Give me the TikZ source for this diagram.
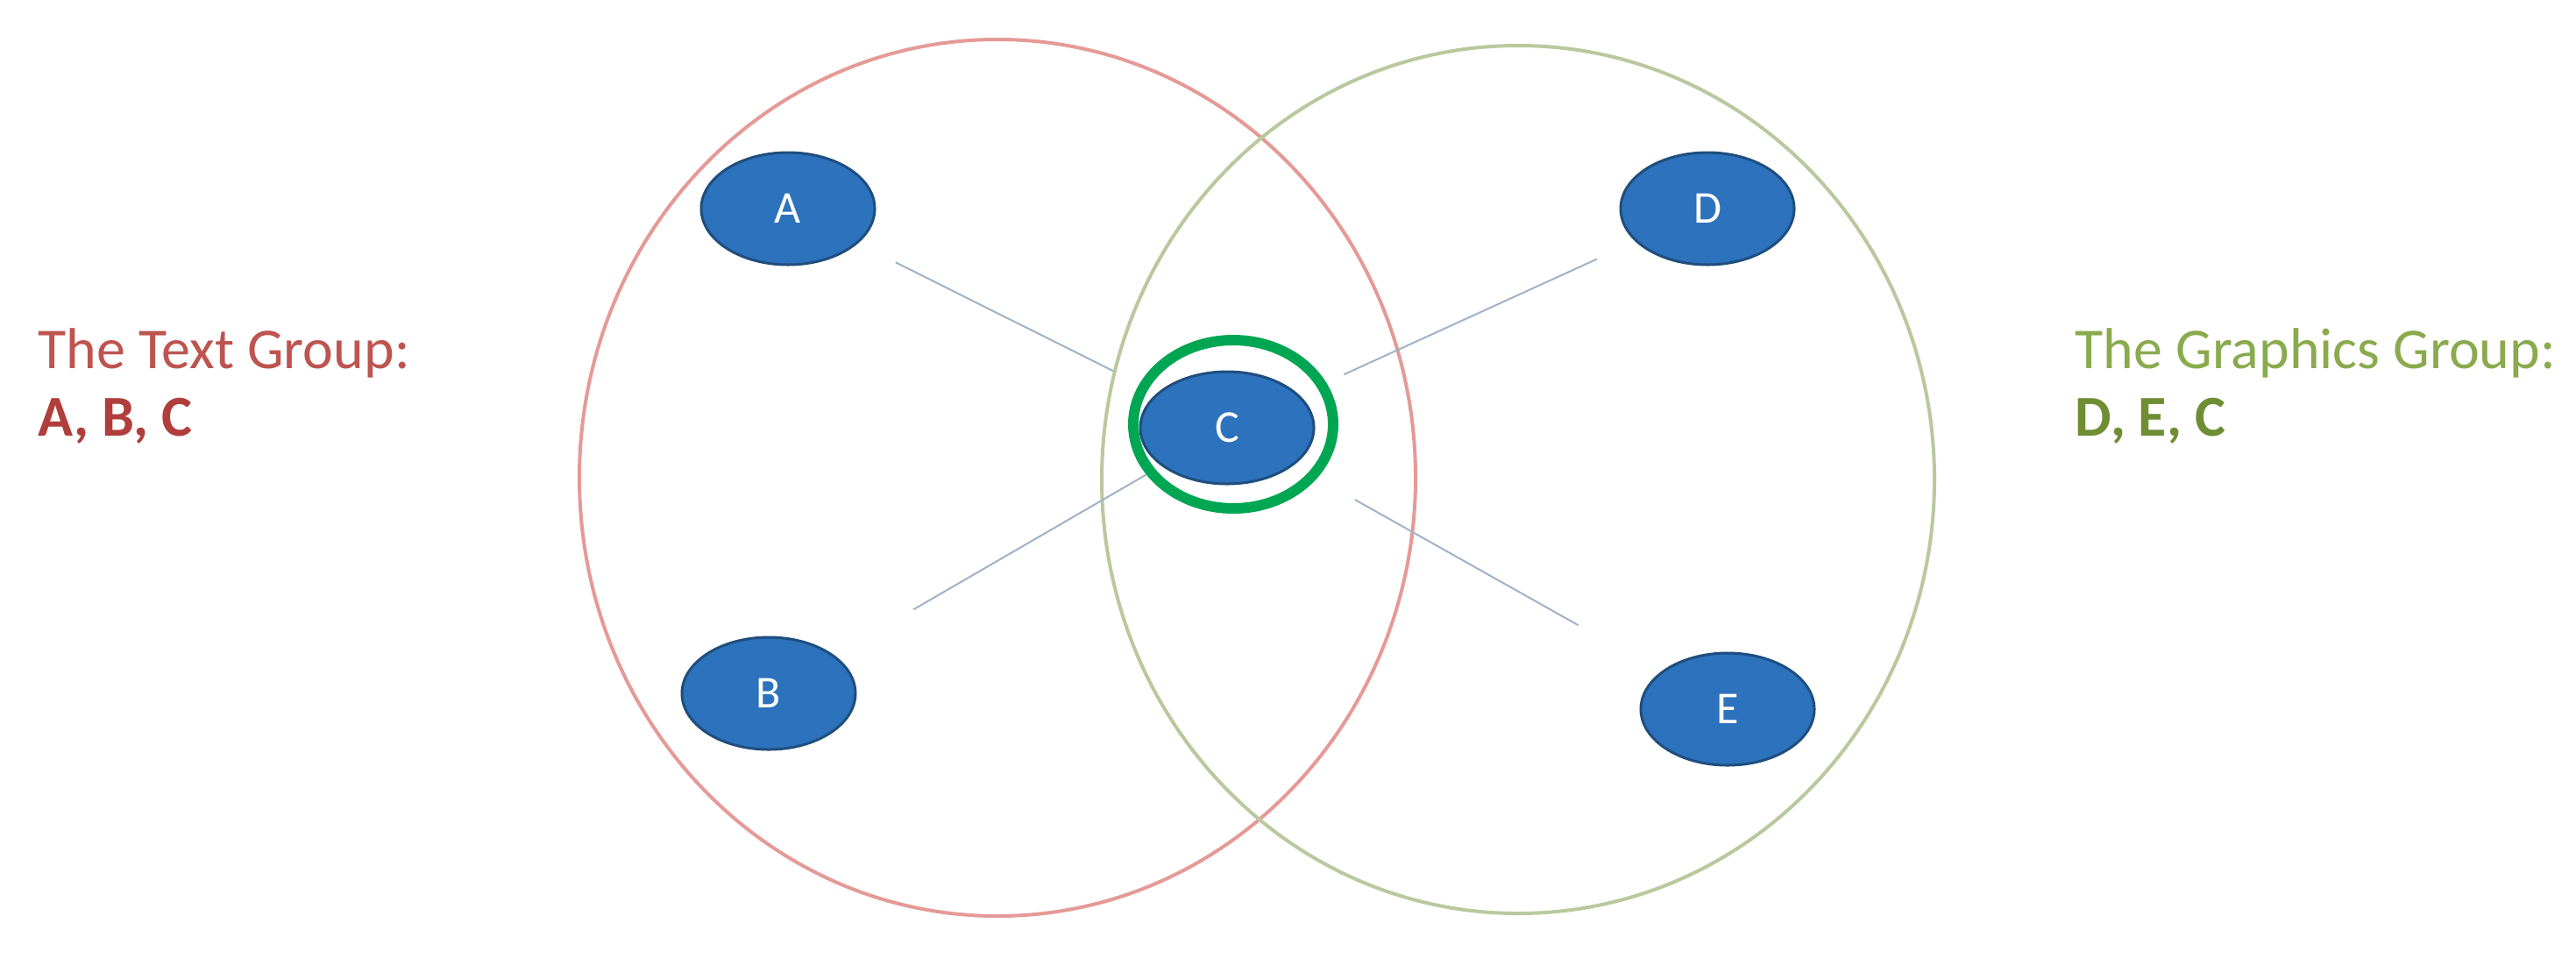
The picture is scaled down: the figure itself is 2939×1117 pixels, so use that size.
\documentclass[tikz,border=0pt]{standalone}
\usepackage{fontspec}
\setmainfont{Carlito}
\usetikzlibrary{shapes.geometric}
\definecolor{nodefill}{HTML}{2C72BC}
\definecolor{nodeline}{HTML}{1F4E7E}
\definecolor{ringgreen}{HTML}{00A651}
\definecolor{linkcol}{HTML}{9FB3C8}
\definecolor{redgroup}{HTML}{E59A97}
\definecolor{greengroup}{HTML}{B9C99E}
\definecolor{redtext}{HTML}{BE5450}
\definecolor{redbold}{HTML}{B03E3C}
\definecolor{greentext}{HTML}{8AAA4E}
\definecolor{greenbold}{HTML}{6F8E34}
\tikzset{
  member/.style={ellipse, draw=nodeline, line width=0.75pt, fill=nodefill,
    minimum width=49.5pt, minimum height=32pt, inner sep=0pt,
    text=white, font=\fontsize{13}{15}\selectfont},
  link/.style={draw=linkcol, line width=0.5pt},
  groupline/.style={line width=1pt},
  caption/.style={anchor=base west, inner sep=0pt, font=\fontsize{16.5}{19}\selectfont}
}
\begin{document}
\begin{tikzpicture}[x=0.25pt,y=-0.25pt]
\useasboundingbox (0,0) rectangle (2939,1117);
\fill[white] (0,0) rectangle (2939,1117);
% group ellipses
\draw[groupline, draw=redgroup] (1138,545) ellipse [x radius=477, y radius=500];
\draw[groupline, draw=greengroup] (1732,547) ellipse [x radius=475, y radius=495];
% members
\node[member] (A) at (899,238) {A};
\node[member] (B) at (877,791) {B};
\node[member] (C) at (1400,488) {C};
\node[member] (D) at (1948,238) {D};
\node[member] (E) at (1971,809) {E};
% highlight ring around C
\node[ellipse, draw=ringgreen, line width=3pt, minimum width=57pt, minimum height=48pt, inner sep=0pt] (ring) at (1407,484) {};
% links
\draw[link, shorten <=12pt, shorten >=14pt] (A) -- (C);
\draw[link, shorten <=26pt, shorten >=5pt] (B) -- (C);
\draw[link, shorten <=12pt, shorten >=14pt] (D) -- (C);
\draw[link, shorten <=27pt, shorten >=20pt] (E) -- (C);
% captions
\node[caption, text=redtext] (t1) at (43,420) {The Text Group:};
\node[caption, text=redbold, font=\fontsize{16.5}{19}\selectfont\bfseries] (t2) at (43,497) {A, B, C};
\node[caption, text=greentext] (g1) at (2367,420) {The Graphics Group:};
\node[caption, text=greenbold, font=\fontsize{16.5}{19}\selectfont\bfseries] (g2) at (2367,497) {D, E, C};
\end{tikzpicture}
\end{document}
